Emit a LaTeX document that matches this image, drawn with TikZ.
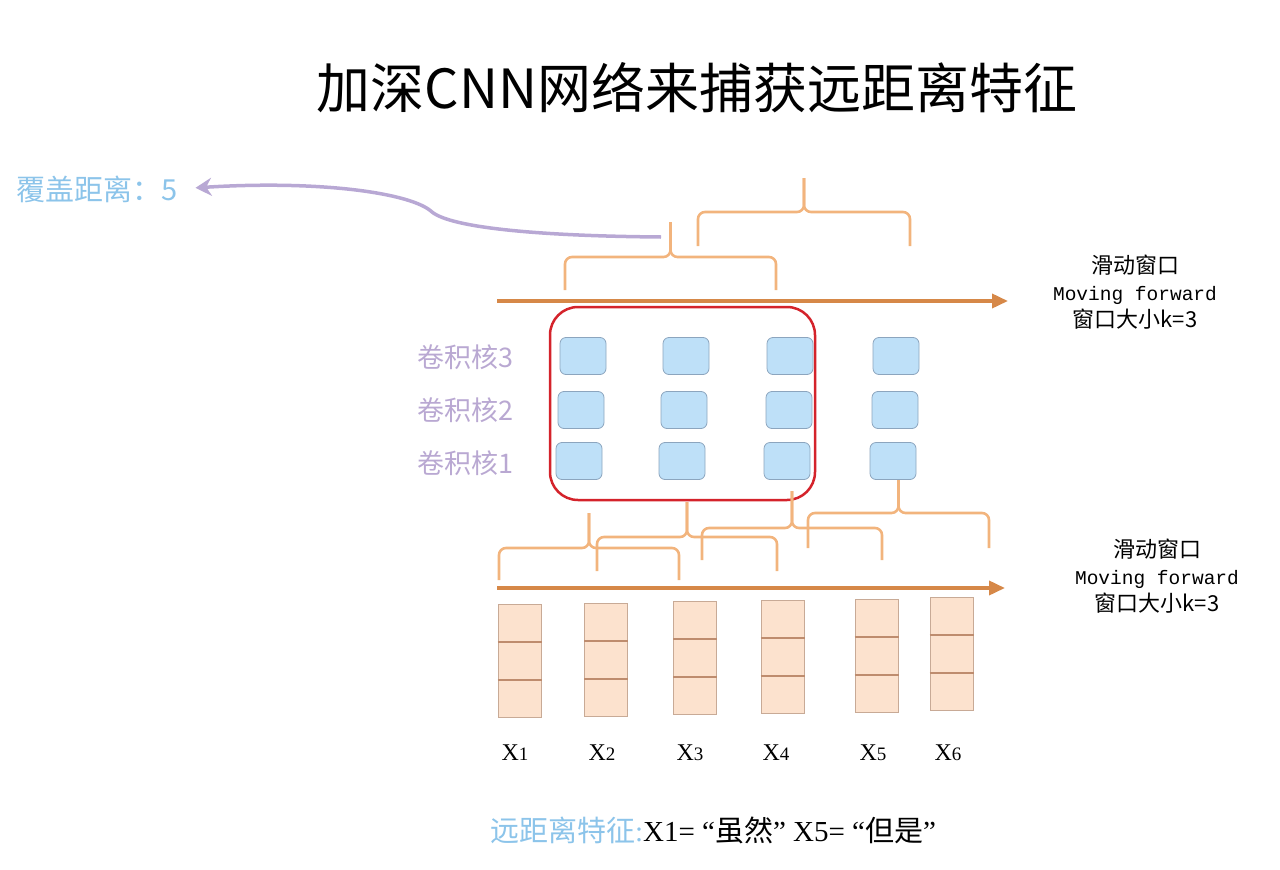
\documentclass[tikz,border=0pt]{standalone}
\usepackage{fontspec}
\setmainfont{Liberation Serif}
\setmonofont{Liberation Mono}
\newfontfamily\cjk{Noto Sans CJK SC}
\usetikzlibrary{positioning,calc,arrows.meta,shapes}
\definecolor{braceorange}{RGB}{242,180,125}
\definecolor{arroworange}{RGB}{214,136,72}
\definecolor{winred}{RGB}{212,35,43}
\definecolor{kernfill}{RGB}{190,224,248}
\definecolor{kerndraw}{RGB}{140,165,190}
\definecolor{tokfill}{RGB}{252,226,206}
\definecolor{tokdraw}{RGB}{200,170,150}
\definecolor{tokline}{RGB}{190,140,110}
\definecolor{labpurple}{RGB}{185,168,210}
\definecolor{labblue}{RGB}{140,196,234}
\definecolor{arrpurple}{RGB}{184,168,212}
\tikzset{kern/.style={draw=kerndraw, fill=kernfill, rounded corners=6pt, minimum width=46pt, minimum height=37pt, inner sep=0pt, line width=0.8pt}}
\tikzset{tok/.style={draw=tokdraw, fill=tokfill, minimum width=43pt, minimum height=113pt, inner sep=0pt, line width=1pt}}
\tikzset{window/.style={draw=winred, line width=2.5pt, rounded corners=28pt, minimum width=265pt, minimum height=193pt, inner sep=0pt}}
\tikzset{winbrace/.style={draw=braceorange, line width=2.6pt, rounded corners=7pt}}
\tikzset{slide/.style={draw=arroworange, line width=3.6pt, -{Triangle[length=16pt,width=14pt]}}}
\tikzset{kernlab/.style={text=labpurple, font=\cjk\fontsize{27}{27}\selectfont, anchor=east, inner sep=0pt}}
\tikzset{steplab/.style={align=center, font=\fontsize{19.5}{27}\selectfont}}
\tikzset{xlab/.style={font=\fontsize{24}{24}\selectfont}}
\begin{document}
\begin{tikzpicture}[x=1pt, y=-1pt]
\useasboundingbox (0,0) rectangle (1280,870);
\node (title) at (697,88) {\cjk\fontsize{54}{54}\selectfont 加深CNN网络来捕获远距离特征};
%
% kernels
\foreach \c/\xa/\xb/\xc in {1/583/581/579, 2/686/684/682, 3/790/789/787, 4/896/895/893} {
  \node[kern] (k\c3) at (\xa,356) {};
  \node[kern] (k\c2) at (\xb,410) {};
  \node[kern] (k\c1) at (\xc,461) {};
}
\node[kernlab] (lab3) at (514,357) {卷积核3};
\node[kernlab] (lab2) at (514,410) {卷积核2};
\node[kernlab] (lab1) at (514,463) {卷积核1};
\node[window] (win) at (682.5,403.5) {};
%
% sliding arrows
\coordinate (s1) at (497,301);
\coordinate (e1) at (1008,301);
\draw[slide] (s1) -- (e1);
\coordinate (s2) at (497,588);
\coordinate (e2) at (1005,588);
\draw[slide] (s2) -- (e2);
\node[steplab] (mv1) at (1135,292) {{\cjk\fontsize{22}{27}\selectfont 滑动窗口}\\{\ttfamily Moving forward}\\{\cjk\fontsize{22}{27}\selectfont 窗口大小k=3}};
\node[steplab] (mv2) at (1157,576) {{\cjk\fontsize{22}{27}\selectfont 滑动窗口}\\{\ttfamily Moving forward}\\{\cjk\fontsize{22}{27}\selectfont 窗口大小k=3}};
%
% inputs
\foreach \i/\x/\y in {1/519.5/661, 2/606/660, 3/695/658, 4/782.5/657, 5/876.5/656, 6/951.5/654} {
  \node[tok] (x\i) at (\x,\y) {};
  \draw[tokline, line width=1.6pt] ($(x\i.north west)!1/3!(x\i.south west)$) -- ($(x\i.north east)!1/3!(x\i.south east)$);
  \draw[tokline, line width=1.6pt] ($(x\i.north west)!2/3!(x\i.south west)$) -- ($(x\i.north east)!2/3!(x\i.south east)$);
}
\foreach \i/\x in {1/515, 2/602, 3/690, 4/776, 5/873, 6/948}
  \node[xlab] (n\i) at (\x,753) {X{\fontsize{19}{19}\selectfont\i}};
%
% windows
\foreach \l/\r/\f/\b/\t in {499/679/548/580/513, 597/777/537/571/502, 702/882/528/560/491, 808/989/513/548/480, 565/776/257/290/222, 698/910/212/246/178} {
  \draw[winbrace] (\l,\b) -- (\l,\f) -- ({(\l+\r)/2},\f) -- ({(\l+\r)/2},\t);
  \draw[winbrace] (\r,\b) -- (\r,\f) -- ({(\l+\r)/2},\f) -- ({(\l+\r)/2},\t);
}
%
\node[text=labblue, font=\cjk\fontsize{29}{29}\selectfont, anchor=west, inner sep=0pt] (cover) at (16,189) {覆盖距离：5};
\coordinate (coverend) at (661,237);
\draw[arrpurple, line width=3.5pt, shorten >=18pt, -{Stealth[length=16pt,width=18pt]}] (coverend) .. controls (540,236) and (452,228) .. (432,212) .. controls (412,193) and (320,180) .. (cover.east);
%
\node (feat) at (713,830) {\fontsize{29}{29}\selectfont{\color{labblue}\cjk 远距离特征}{\color{labblue}:}X1= “{\cjk 虽然}” X5= “{\cjk 但是}”};
\end{tikzpicture}
\end{document}
